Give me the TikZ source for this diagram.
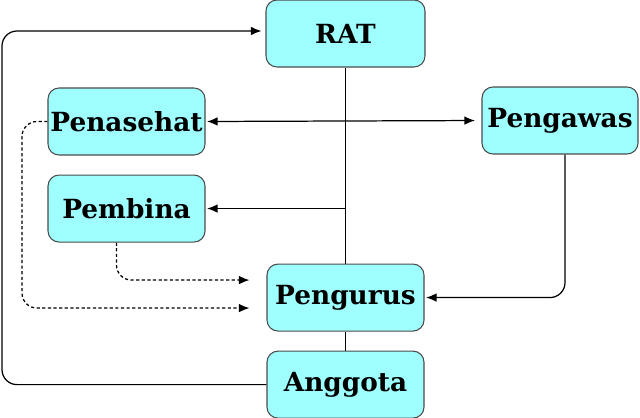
\documentclass[tikz,border=0pt]{standalone}
\usepackage{fontspec}
\setmainfont{DejaVu Serif}
\usetikzlibrary{positioning,arrows.meta,calc}
\definecolor{boxfill}{HTML}{9FFFFF}
\definecolor{boxline}{HTML}{4A4A4A}
\begin{document}
\begin{tikzpicture}[
  font=\fontsize{15}{18}\selectfont\bfseries,
  >={Latex[length=2.1mm,width=1.7mm]},
  box/.style={rounded corners=0.22cm, draw=boxline, fill=boxfill, semithick, align=center,
    minimum width=3.14cm, minimum height=1.34cm, inner xsep=0pt, inner ysep=2pt},
  arr/.style={->, line width=0.7pt},
  dotarr/.style={->, line width=0.7pt, dash pattern=on 1.8pt off 1.4pt},
]
\useasboundingbox (0,0) rectangle (12.8,-8.34);
\node[box, minimum width=3.18cm] (rat) at (6.91,-0.67) {RAT};
\node[box, below=3.92cm of rat] (pengurus) {Pengurus};
\node[box, below=0.38cm of pengurus] (anggota) {Anggota};
\node[box] (penasehat) at (2.53,-2.43) {Penasehat};
\node[box, below=0.38cm of penasehat] (pembina) {Pembina};
\node[box, minimum width=3.12cm] (pengawas) at (11.2,-2.41) {Pengawas};
\coordinate (jb) at (rat.south |- pembina.east);
\coordinate (lft) at (0.04,-4);
\coordinate (dl) at (0.44,-4);
\draw[line width=0.7pt] (rat.south) -- (pengurus.north);
\draw[line width=0.7pt] (pengurus.south) -- (anggota.north);
\draw[arr, <->, shorten >=0.13cm, shorten <=0.03cm] (penasehat.east) -- (pengawas.west);
\draw[arr, shorten >=0.03cm] (jb) -- (pembina.east);
\draw[arr, rounded corners=0.3cm, shorten >=0.03cm] ([xshift=0.1cm]pengawas.south) |- (pengurus.east);
\draw[arr, rounded corners=0.3cm, shorten >=0.08cm] (anggota.west) -- (anggota.west -| lft) |- ([yshift=0.05cm]rat.west);
\draw[dotarr, rounded corners=0.3cm, shorten >=0.34cm] (penasehat.west) -- (penasehat.west -| dl) |- ([yshift=-0.21cm]pengurus.west);
\draw[dotarr, rounded corners=0.3cm, shorten >=0.34cm] ([xshift=-0.2cm]pembina.south) |- ([yshift=0.35cm]pengurus.west);
\end{tikzpicture}
\end{document}
